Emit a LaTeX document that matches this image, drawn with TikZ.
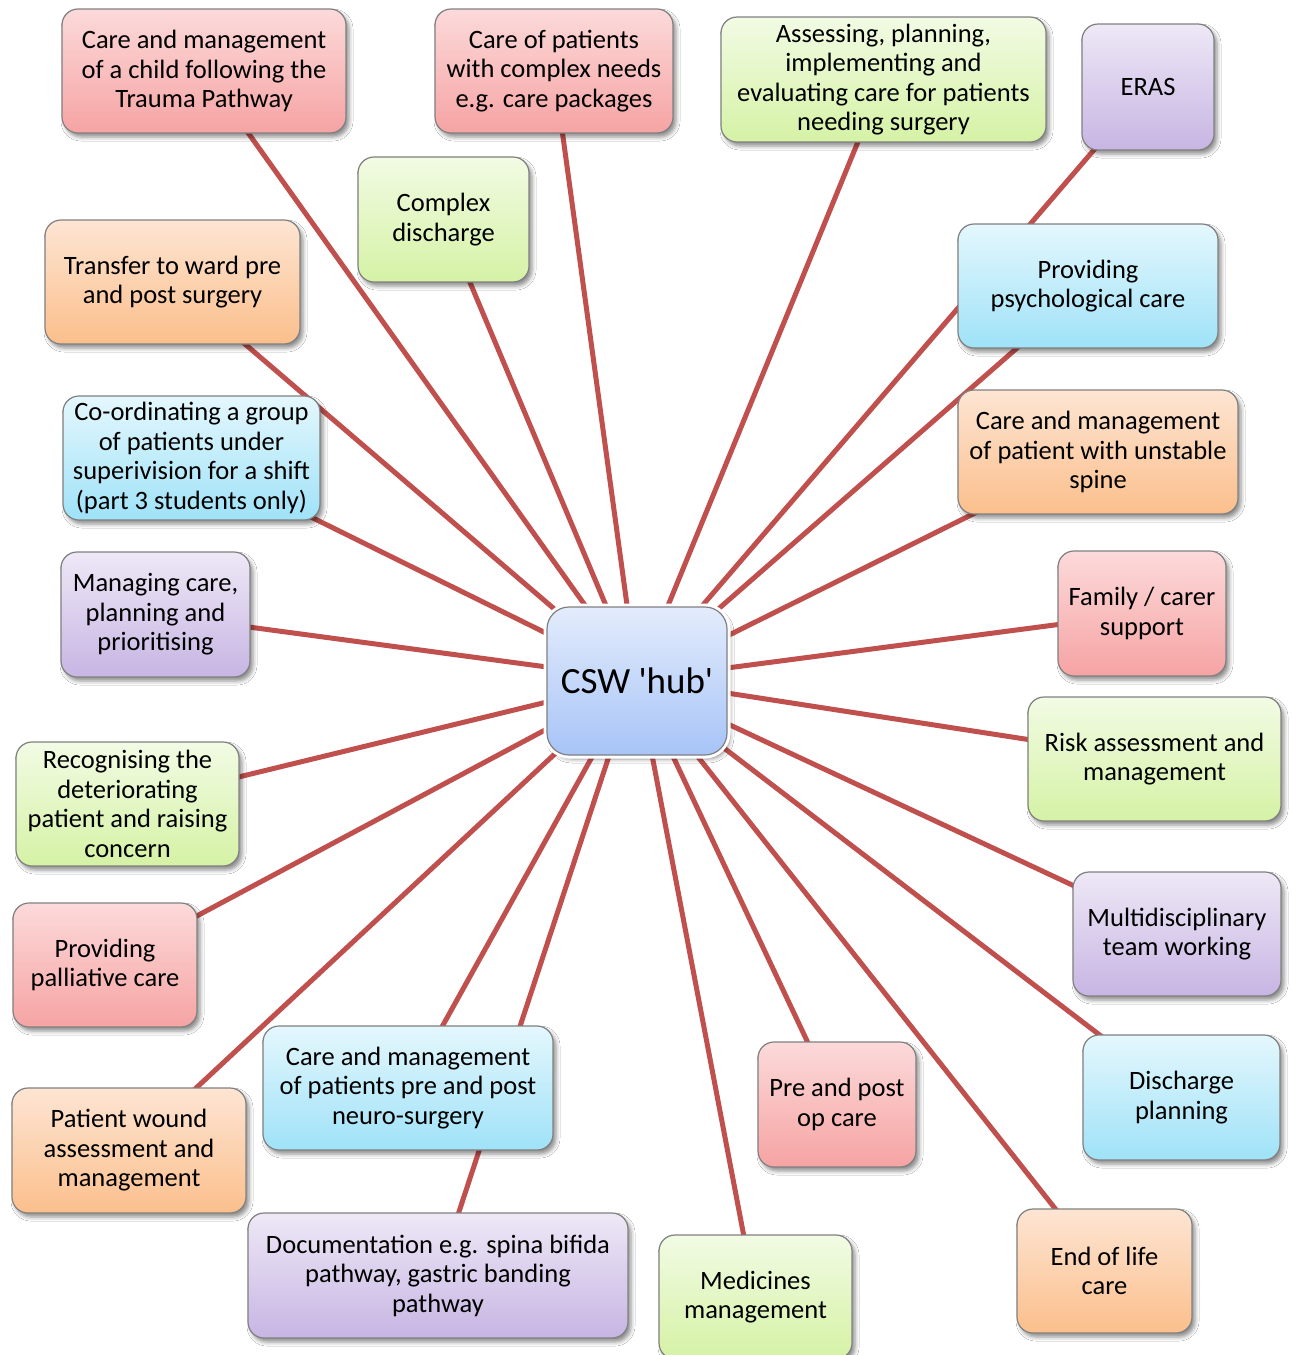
\documentclass[tikz,border=0pt]{standalone}
\usepackage{fontspec}
\setmainfont{Carlito}[Ligatures=TeXOff]
\usetikzlibrary{shadows.blur}
\definecolor{linkc}{HTML}{C0504D}
\definecolor{pinkT}{HTML}{FCDADA}\definecolor{pinkB}{HTML}{F6A3A3}
\definecolor{greenT}{HTML}{F2FBE4}\definecolor{greenB}{HTML}{D5F2A5}
\definecolor{orangeT}{HTML}{FDE5D3}\definecolor{orangeB}{HTML}{FBBF8C}
\definecolor{purpleT}{HTML}{EEE8F6}\definecolor{purpleB}{HTML}{C7B5E3}
\definecolor{blueT}{HTML}{E4F7FD}\definecolor{blueB}{HTML}{9FE2F8}
\definecolor{hubT}{HTML}{E3ECFC}\definecolor{hubB}{HTML}{A7C4F7}
\pgfdeclarelayer{bg}
\pgfsetlayers{bg,main}
\tikzset{
  box/.style={rectangle, rounded corners=16pt, draw=black!50, line width=1.2pt,
    align=center, inner sep=0pt, font=\fontsize{26.5}{29.5}\selectfont,
    blur shadow={shadow xshift=3pt, shadow yshift=-4pt, shadow blur radius=4pt, shadow opacity=45}},
  pinkbox/.style={box, top color=pinkT, bottom color=pinkB},
  greenbox/.style={box, top color=greenT, bottom color=greenB},
  orangebox/.style={box, top color=orangeT, bottom color=orangeB},
  purplebox/.style={box, top color=purpleT, bottom color=purpleB},
  bluebox/.style={box, top color=blueT, bottom color=blueB},
  hubbox/.style={box, rounded corners=22pt, top color=hubT, bottom color=hubB,
    font=\fontsize{37}{44}\selectfont, preaction={draw=white, line width=7pt}},
  link/.style={draw=linkc, line width=5pt}
}
\begin{document}
\begin{tikzpicture}[x=1pt,y=-1pt]
\useasboundingbox (0,0) rectangle (1292,1355);

\node[hubbox, minimum width=180, minimum height=148] (hub) at (637,681) {CSW 'hub'};

\node[pinkbox, minimum width=284, minimum height=124] (n1) at (204,71) {Care and management\\of a child following the\\Trauma Pathway};
\node[pinkbox, minimum width=238, minimum height=124] (n2) at (554,71) {Care of patients\\with complex needs\\e.g. care packages};
\node[greenbox, minimum width=325, minimum height=125] (n3) at (883.5,79.5) {Assessing, planning,\\implementing and\\evaluating care for patients\\needing surgery};
\node[purplebox, minimum width=132, minimum height=126] (n4) at (1148,87) {ERAS};
\node[greenbox, minimum width=171, minimum height=125] (n5) at (443.5,219.5) {Complex\\discharge};
\node[orangebox, minimum width=255, minimum height=124] (n6) at (172.5,282) {Transfer to ward pre\\and post surgery};
\node[bluebox, minimum width=260, minimum height=124] (n7) at (1088,286) {Providing\\psychological care};
\node[bluebox, minimum width=257, minimum height=124] (n8) at (191.5,458) {Co-ordinating a group\\of patients under\\superivision for a shift\\(part 3 students only)};
\node[orangebox, minimum width=280, minimum height=124] (n9) at (1098,452) {Care and management\\of patient with unstable\\spine};
\node[purplebox, minimum width=189, minimum height=125] (n10) at (155.5,614.5) {Managing care,\\planning and\\prioritising};
\node[pinkbox, minimum width=168, minimum height=125] (n11) at (1142,613.5) {Family / carer\\support};
\node[greenbox, minimum width=223, minimum height=124] (n12) at (127.5,804) {Recognising the\\deteriorating\\patient and raising\\concern};
\node[greenbox, minimum width=253, minimum height=124] (n13) at (1154.5,759) {Risk assessment and\\management};
\node[pinkbox, minimum width=184, minimum height=124] (n14) at (105,965) {Providing\\palliative care};
\node[purplebox, minimum width=208, minimum height=124] (n15) at (1177,934) {Multidisciplinary\\team working};
\node[bluebox, minimum width=290, minimum height=124] (n16) at (408,1088) {Care and management\\of patients pre and post\\neuro-surgery};
\node[orangebox, minimum width=234, minimum height=125] (n17) at (129,1150.5) {Patient wound\\assessment and\\management};
\node[pinkbox, minimum width=158, minimum height=125] (n18) at (837,1104.5) {Pre and post\\op care};
\node[bluebox, minimum width=197, minimum height=125] (n19) at (1181.5,1097.5) {Discharge\\planning};
\node[purplebox, minimum width=380, minimum height=125] (n20) at (438,1275.5) {Documentation e.g. spina bifida\\pathway, gastric banding\\pathway};
\node[greenbox, minimum width=193, minimum height=124] (n21) at (755.5,1297) {Medicines\\management};
\node[orangebox, minimum width=175, minimum height=124] (n22) at (1104.5,1271) {End of life\\care};

\coordinate (e1) at (592,615);
\coordinate (e2) at (627,605);
\coordinate (e3) at (667,608);
\coordinate (e4) at (690,620);
\coordinate (e5) at (607,608);
\coordinate (e6) at (573,625);
\coordinate (e7) at (700,625);
\coordinate (e8) at (560,640);
\coordinate (e9) at (715,642);
\coordinate (e10) at (547,667);
\coordinate (e11) at (727,668);
\coordinate (e12) at (547,702);
\coordinate (e13) at (727,693);
\coordinate (e14) at (560,722);
\coordinate (e15) at (715,718);
\coordinate (e16) at (597,748);
\coordinate (e17) at (573,737);
\coordinate (e18) at (670,750);
\coordinate (e19) at (703,732);
\coordinate (e20) at (610,753);
\coordinate (e21) at (652,755);
\coordinate (e22) at (687,743);

\begin{pgfonlayer}{bg}
\fill[white] (0,0) rectangle (1292,1355);
\foreach \i in {1,...,22} {
  \draw[link] (n\i.center) -- (e\i);
}
\end{pgfonlayer}
\end{tikzpicture}
\end{document}
